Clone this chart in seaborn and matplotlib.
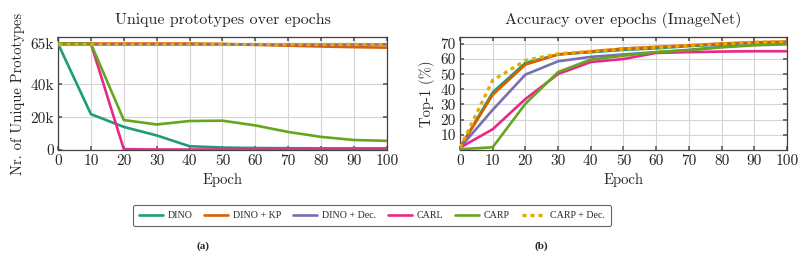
import matplotlib
matplotlib.use("Agg")
import matplotlib.pyplot as plt
import seaborn as sns
import pandas as pd
from matplotlib.lines import Line2D

epochs = [0, 10, 20, 30, 40, 50, 60, 70, 80, 90, 100]
methods = ["DINO", "DINO + KP", "DINO + Dec.", "CARL", "CARP", "CARP + Dec."]
colors = ["#1b9e77", "#d95f02", "#7570b3", "#e7298a", "#66a61e", "#e6ab02"]

protos_dino = [65000, 21900, 14100, 8900, 2300, 1500, 1200, 1100, 1000, 1000, 1000]
protos_kp = [65000, 65000, 65000, 65000, 65000, 64800, 64200, 63700, 63200, 62800, 62500]
protos_dec = [65000, 65000, 65000, 65000, 65000, 65000, 65000, 65000, 65000, 65000, 65000]
protos_carl = [65000, 65000, 500, 300, 300, 300, 300, 300, 300, 300, 300]
protos_carp = [65000, 65000, 18300, 15600, 17700, 17900, 15000, 11000, 8000, 6100, 5600]
protos_carp_dec = [65000, 65000, 65000, 65000, 65000, 65000, 65000, 65000, 65000, 65000, 65000]

acc_dino = [1.5, 38, 57.4, 63, 64.5, 66, 67, 68.5, 69.5, 70.5, 71]
acc_kp = [1.5, 36.4, 56.3, 63, 65, 66.9, 68, 69, 70.2, 71, 71.5]
acc_dec = [1.5, 26.5, 49.7, 58.5, 61.4, 63, 64.5, 66, 68, 69.5, 70]
acc_carl = [1.5, 13.7, 33.6, 50.1, 58, 60, 64, 64.5, 64.9, 65.1, 65.1]
acc_carp = [0.5, 1.8, 30.5, 51.4, 59.6, 62.2, 64.5, 65.8, 67.7, 69, 69.7]
acc_carp_dec = [1.5, 46, 59, 63.4, 65, 66.5, 67.5, 69, 70, 71, 71.5]

left_ticks = [0, 20000, 40000, 65000]
left_ticklabels = ["0", "20k", "40k", "65k"]
right_ticks = [10, 20, 30, 40, 50, 60, 70]
x_ticks = epochs

protos = [protos_dino, protos_kp, protos_dec, protos_carl, protos_carp, protos_carp_dec]
accs = [acc_dino, acc_kp, acc_dec, acc_carl, acc_carp, acc_carp_dec]

sns.set_theme(style="whitegrid")
plt.rcParams["font.family"] = ["cmr10", "DejaVu Serif"]
plt.rcParams["mathtext.fontset"] = "cm"
plt.rcParams["axes.formatter.use_mathtext"] = True

fig = plt.figure(figsize=(8.04, 2.59), dpi=100)
ax1 = fig.add_axes([58 / 804, 1 - 150 / 259, (387 - 58) / 804, (150 - 37) / 259])
ax2 = fig.add_axes([460 / 804, 1 - 150 / 259, (787 - 460) / 804, (150 - 37) / 259])

def draw(ax, series):
    for name, col, vals in zip(methods, colors, series):
        df = pd.DataFrame({"Epoch": epochs, "v": vals})
        if name == "CARP + Dec.":
            sns.lineplot(data=df, x="Epoch", y="v", ax=ax, color=col, lw=2.4,
                         linestyle=(0, (1.2, 1.2)), zorder=5)
        else:
            sns.lineplot(data=df, x="Epoch", y="v", ax=ax, color=col, lw=1.9, zorder=3)

draw(ax1, protos)
draw(ax2, accs)

for ax in (ax1, ax2):
    ax.set_xlim(0, 100)
    ax.set_xticks(x_ticks)
    ax.set_xticklabels([str(e) for e in x_ticks])
    ax.set_facecolor("white")
    ax.grid(True, color="#d4d4d4", lw=0.8)
    for s in ax.spines.values():
        s.set_color("#404040")
        s.set_linewidth(0.9)
    ax.tick_params(direction="in", length=3, color="#606060", labelsize=11,
                   pad=3, top=True, right=True, bottom=True, left=True)
    ax.set_xlabel("Epoch", fontsize=10.5, labelpad=4)

ax1.set_ylim(0, 69000)
ax1.set_yticks(left_ticks)
ax1.set_yticklabels(left_ticklabels)
ax1.set_ylabel("Nr. of Unique Prototypes", fontsize=10.5, labelpad=4)
ax1.set_title("Unique prototypes over epochs", fontsize=11.5, pad=9)

ax2.set_ylim(0, 74.5)
ax2.set_yticks(right_ticks)
ax2.set_yticklabels([str(t) for t in right_ticks])
ax2.set_ylabel("Top-1 (%)", fontsize=10.5, labelpad=4)
ax2.set_title("Accuracy over epochs (ImageNet)", fontsize=11.5, pad=9)

handles = []
for name, col in zip(methods, colors):
    if name == "CARP + Dec.":
        handles.append(Line2D([], [], color=col, lw=2.4, linestyle=(0, (1.2, 1.2))))
    else:
        handles.append(Line2D([], [], color=col, lw=1.9))
leg = fig.legend(handles, methods, loc="center", bbox_to_anchor=(372 / 804, 1 - 215.5 / 259),
                 ncol=6, frameon=True, fancybox=True, handlelength=2.4, columnspacing=1.2,
                 handletextpad=0.45, borderpad=0.6,
                 prop={"family": "Liberation Serif", "size": 7.2})
leg.get_frame().set_edgecolor("#404040")
leg.get_frame().set_linewidth(0.8)

fig.text(203 / 804, 1 - 246 / 259, "(a)", ha="center", va="center",
         fontsize=8, fontweight="bold", family="Liberation Serif")
fig.text(541 / 804, 1 - 246 / 259, "(b)", ha="center", va="center",
         fontsize=8, fontweight="bold", family="Liberation Serif")

fig.savefig("out.png", dpi=100)
